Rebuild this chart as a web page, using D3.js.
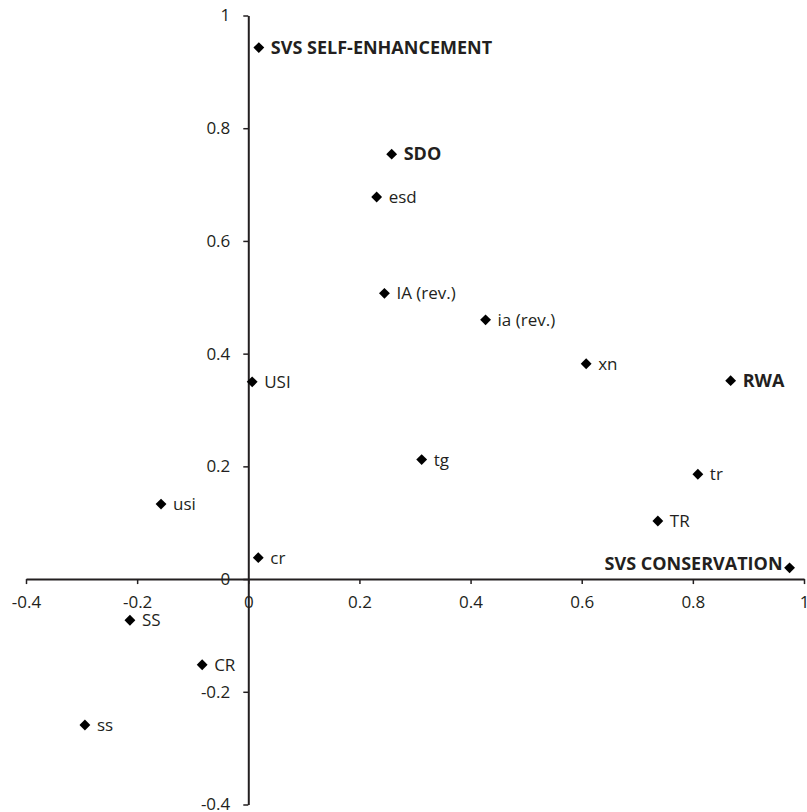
<!DOCTYPE html>
<html>
<head>
<meta charset="utf-8">
<script src="https://cdn.jsdelivr.net/npm/d3@7"></script>
<style>
  body { margin: 0; background: #fff; }
  svg text { font-family: "Open Sans", sans-serif; fill: #231f20; }
</style>
</head>
<body>
<script>
// scatter points: label, x, y, bold?, label on left?
const labels = ["SVS SELF-ENHANCEMENT", "SDO", "esd", "IA (rev.)", "ia (rev.)", "xn", "USI", "RWA",
                "tg", "tr", "usi", "TR", "cr", "SVS CONSERVATION", "SS", "CR", "ss"];
const xs = [0.019, 0.258, 0.231, 0.245, 0.427, 0.608, 0.007, 0.868,
            0.312, 0.809, -0.157, 0.737, 0.018, 0.974, -0.213, -0.083, -0.294];
const ys = [0.943, 0.754, 0.678, 0.507, 0.460, 0.382, 0.350, 0.352,
            0.212, 0.186, 0.133, 0.103, 0.038, 0.020, -0.073, -0.152, -0.259];
const boldLabels = ["SVS SELF-ENHANCEMENT", "SDO", "RWA", "SVS CONSERVATION"];
const leftLabels = ["SVS CONSERVATION"];

const xTicks = [-0.4, -0.2, 0, 0.2, 0.4, 0.6, 0.8, 1];
const xTickLabels = ["-0.4", "-0.2", "0", "0.2", "0.4", "0.6", "0.8", "1"];
const yTicks = [-0.4, -0.2, 0, 0.2, 0.4, 0.6, 0.8, 1];
const yTickLabels = ["-0.4", "-0.2", "0", "0.2", "0.4", "0.6", "0.8", "1"];

const w = 807, h = 812;

const svg = d3.select("body").append("svg")
  .attr("width", w)
  .attr("height", h);

const xScale = d3.scaleLinear().domain([-0.4, 1]).range([26, 804]);
const yScale = d3.scaleLinear().domain([-0.4, 1]).range([804.5, 15.5]);

const xAxis = d3.axisBottom(xScale)
  .tickValues(xTicks)
  .tickFormat((d, i) => xTickLabels[i])
  .tickSizeInner(5)
  .tickSizeOuter(0)
  .tickPadding(12);

const yAxis = d3.axisLeft(yScale)
  .tickValues(yTicks)
  .tickFormat((d, i) => yTickLabels[i])
  .tickSizeInner(5)
  .tickSizeOuter(0)
  .tickPadding(13);

const gx = svg.append("g")
  .attr("transform", "translate(0," + yScale(0) + ")")
  .call(xAxis);

const gy = svg.append("g")
  .attr("transform", "translate(" + xScale(0) + ",0)")
  .call(yAxis);

[gx, gy].forEach(g => {
  g.select(".domain").attr("stroke", "#231f20").attr("stroke-width", 2);
  g.selectAll(".tick line").attr("stroke", "#231f20").attr("stroke-width", 1.5);
  g.selectAll(".tick text").style("font-size", "17px").attr("fill", "#231f20");
});

const pts = labels.map((l, i) => ({ label: l, x: xs[i], y: ys[i] }));

const diamond = d3.symbol().type(d3.symbolDiamond2).size(75);

svg.selectAll("path.pt")
  .data(pts)
  .enter()
  .append("path")
  .attr("class", "pt")
  .attr("d", diamond)
  .attr("transform", d => "translate(" + xScale(d.x) + "," + yScale(d.y) + ")")
  .attr("fill", "#000");

svg.selectAll("text.lbl")
  .data(pts)
  .enter()
  .append("text")
  .attr("class", "lbl")
  .attr("x", d => leftLabels.includes(d.label) ? xScale(d.x) - 7 : xScale(d.x) + 12)
  .attr("y", d => leftLabels.includes(d.label) ? yScale(d.y) - 4 : yScale(d.y))
  .attr("dy", "0.35em")
  .attr("text-anchor", d => leftLabels.includes(d.label) ? "end" : "start")
  .style("font-size", d => boldLabels.includes(d.label) ? "18px" : "17px")
  .style("font-weight", d => boldLabels.includes(d.label) ? "bold" : "normal")
  .text(d => d.label);
</script>
</body>
</html>
